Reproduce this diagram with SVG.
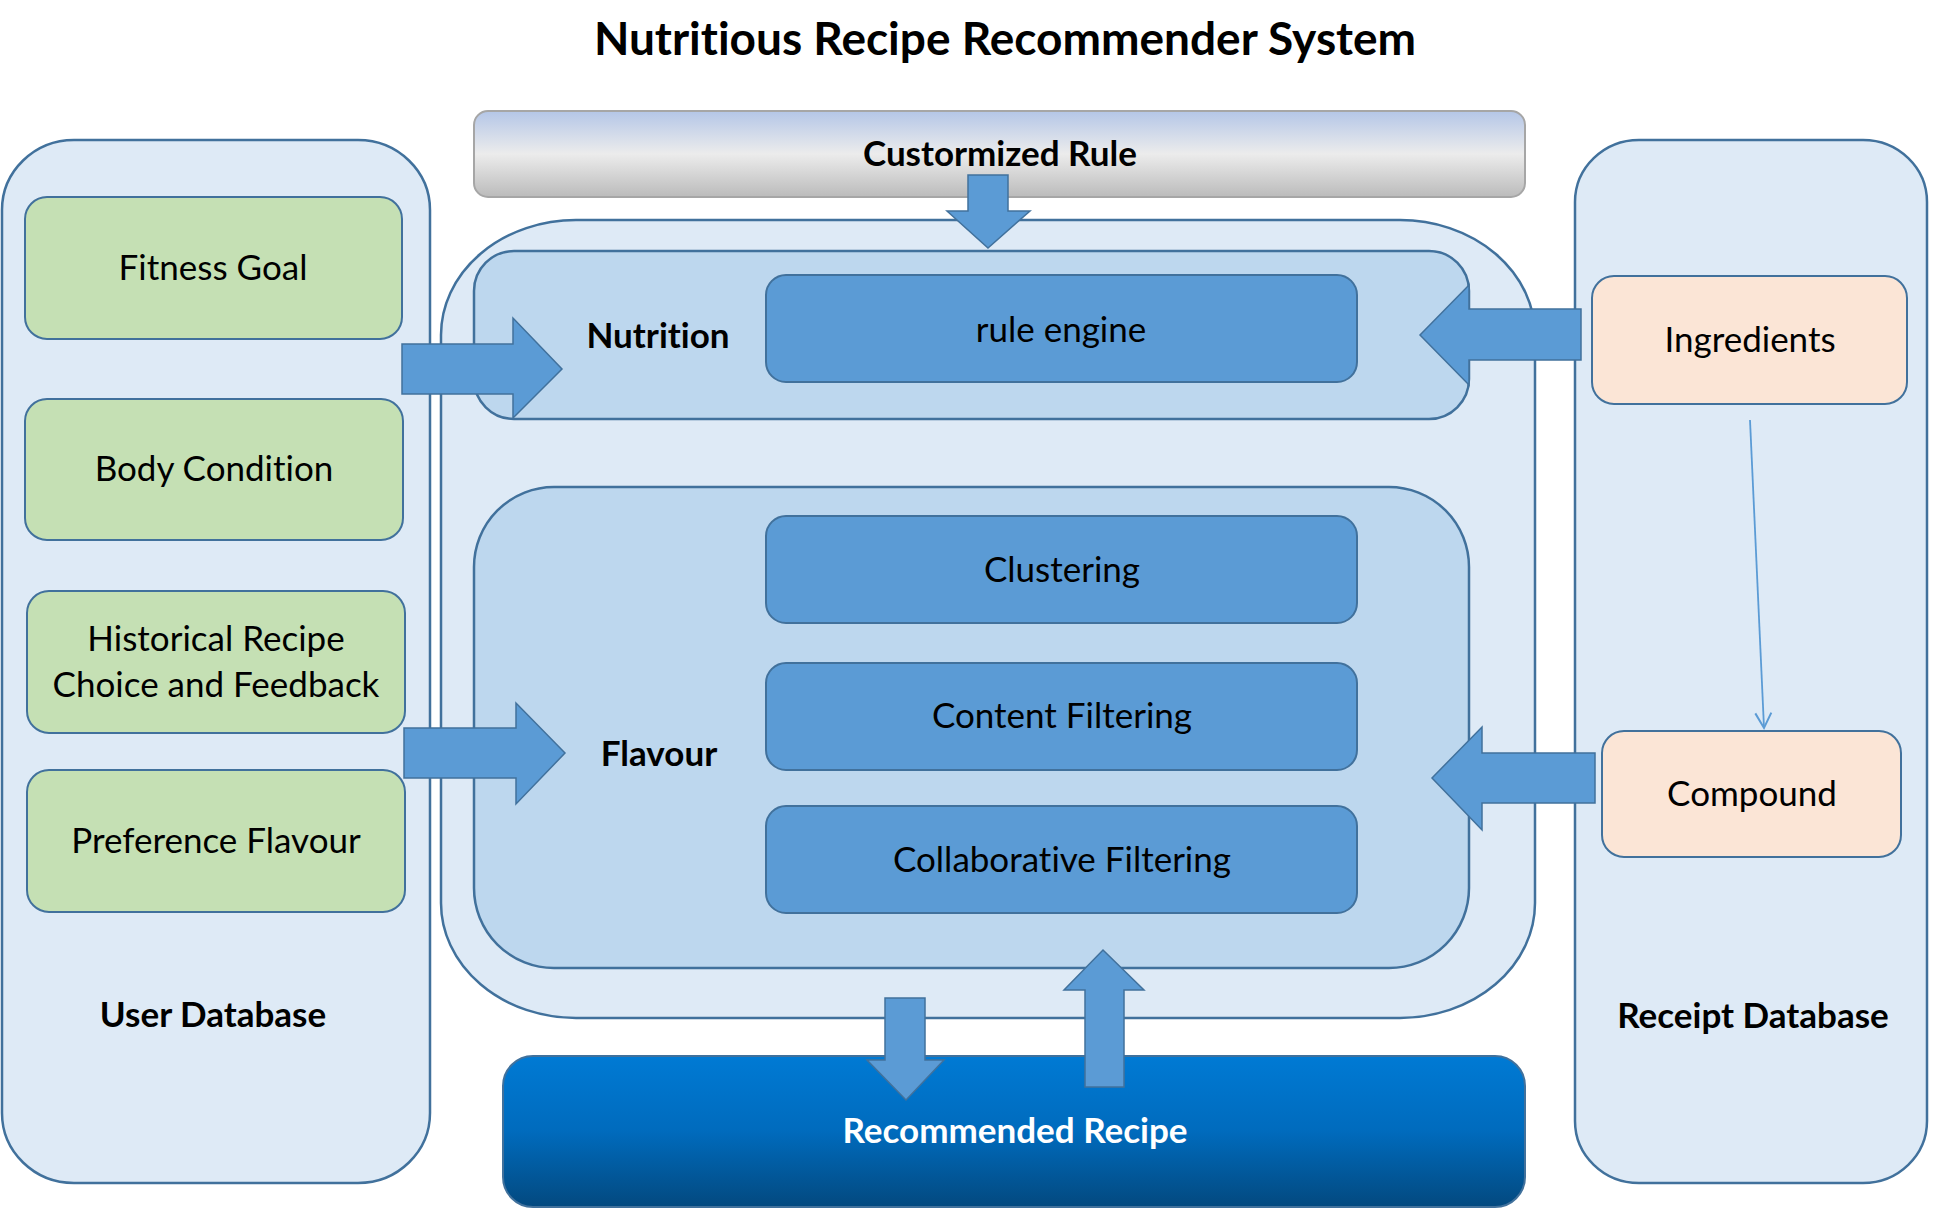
<svg xmlns="http://www.w3.org/2000/svg" width="1957" height="1209" viewBox="0 0 1957 1209">
  <style>
    text { font-variant-ligatures: none; }
    .panel { fill: #DEEAF6; stroke: #41719C; stroke-width: 2.5; }
    .group { fill: #BDD7EE; stroke: #41719C; stroke-width: 2.5; }
    .algo { fill: #5B9BD5; stroke: #41719C; stroke-width: 2; }
    .green { fill: #C5E0B4; stroke: #41719C; stroke-width: 2; }
    .peach { fill: #FBE5D6; stroke: #41719C; stroke-width: 2; }
    .arrow { fill: #5B9BD5; stroke: #41719C; stroke-width: 1.5; }
    .t { font-family: Lato, "Liberation Sans", sans-serif; font-size: 35px; fill: #000; text-anchor: middle; }
    .b { font-family: Lato, "Liberation Sans", sans-serif; font-size: 35px; font-weight: bold; fill: #000; text-anchor: middle; }
  </style>
  <defs>
    <linearGradient id="gRule" x1="0" y1="0" x2="0" y2="1">
      <stop offset="0" stop-color="#B4C6E7"/>
      <stop offset="0.5" stop-color="#ECECEC"/>
      <stop offset="1" stop-color="#BBBBBB"/>
    </linearGradient>
    <linearGradient id="gRec" x1="0" y1="0" x2="0" y2="1">
      <stop offset="0" stop-color="#007AD4"/>
      <stop offset="0.5" stop-color="#006BBD"/>
      <stop offset="1" stop-color="#03497F"/>
    </linearGradient>
    <marker id="open" viewBox="0 0 20 20" refX="17" refY="10" markerWidth="20" markerHeight="20" markerUnits="userSpaceOnUse" orient="auto">
      <path d="M2,2 L17,10 L2,18" fill="none" stroke="#5B9BD5" stroke-width="2"/>
    </marker>
  </defs>

  <text id="title" x="1005" y="55" font-family="Lato, 'Liberation Sans', sans-serif" font-size="46" font-weight="bold" text-anchor="middle" fill="#000">Nutritious Recipe Recommender System</text>

  <g id="user-database">
    <rect class="panel" x="2" y="140" width="428" height="1043" rx="72" ry="70"/>
    <text class="b" x="213" y="1027">User Database</text>
  </g>
  <g id="fitness-goal">
    <rect class="green" x="25" y="197" width="377" height="142" rx="22"/>
    <text class="t" x="213" y="280">Fitness Goal</text>
  </g>
  <g id="body-condition">
    <rect class="green" x="25" y="399" width="378" height="141" rx="22"/>
    <text class="t" x="214" y="481">Body Condition</text>
  </g>
  <g id="historical">
    <rect class="green" x="27" y="591" width="378" height="142" rx="22"/>
    <text class="t" x="216" y="651">Historical Recipe</text>
    <text class="t" x="216" y="697">Choice and Feedback</text>
  </g>
  <g id="preference-flavour">
    <rect class="green" x="27" y="770" width="378" height="142" rx="22"/>
    <text class="t" x="216" y="853">Preference Flavour</text>
  </g>

  <g id="receipt-database">
    <rect class="panel" x="1575" y="140" width="352" height="1043" rx="64" ry="62"/>
    <text class="b" x="1753" y="1028">Receipt Database</text>
  </g>
  <g id="ingredients">
    <rect class="peach" x="1592" y="276" width="315" height="128" rx="22"/>
    <text class="t" x="1750" y="352">Ingredients</text>
  </g>
  <g id="compound">
    <rect class="peach" x="1602" y="731" width="299" height="126" rx="22"/>
    <text class="t" x="1752" y="806">Compound</text>
  </g>

  <g id="customized-rule">
    <rect x="474" y="111" width="1051" height="86" rx="14" fill="url(#gRule)" stroke="#A6A6A6" stroke-width="2"/>
    <text class="b" x="1000" y="166">Custormized Rule</text>
  </g>

  <g id="engine">
    <rect class="panel" x="441" y="220" width="1094" height="798" rx="135" ry="115"/>
  </g>

  <g id="nutrition">
    <rect class="group" x="474" y="251" width="995" height="168" rx="40"/>
    <text class="b" x="658" y="348">Nutrition</text>
  </g>
  <g id="rule-engine">
    <rect class="algo" x="766" y="275" width="591" height="107" rx="20"/>
    <text class="t" x="1061" y="342">rule engine</text>
  </g>

  <g id="flavour">
    <rect class="group" x="474" y="487" width="995" height="481" rx="80"/>
    <text class="b" x="659" y="766">Flavour</text>
  </g>
  <g id="clustering">
    <rect class="algo" x="766" y="516" width="591" height="107" rx="20"/>
    <text class="t" x="1062" y="582">Clustering</text>
  </g>
  <g id="content-filtering">
    <rect class="algo" x="766" y="663" width="591" height="107" rx="20"/>
    <text class="t" x="1062" y="728">Content Filtering</text>
  </g>
  <g id="collaborative-filtering">
    <rect class="algo" x="766" y="806" width="591" height="107" rx="20"/>
    <text class="t" x="1062" y="872">Collaborative Filtering</text>
  </g>

  <g id="recommended-recipe">
    <rect x="503" y="1056" width="1022" height="151" rx="30" fill="url(#gRec)" stroke="#41719C" stroke-width="2"/>
    <text x="1015" y="1143" font-family="Lato, 'Liberation Sans', sans-serif" font-size="35" font-weight="bold" fill="#FFFFFF" text-anchor="middle">Recommended Recipe</text>
  </g>

  <g id="connectors">
    <polygon class="arrow" points="968,175 1008,175 1008,211 1030,211 988,248 947,211 968,211"/>
    <polygon class="arrow" points="402,344 513,344 513,318 562,369 513,418 513,394 402,394"/>
    <polygon class="arrow" points="404,728 516,728 516,703 565,753 516,804 516,778 404,778"/>
    <polygon class="arrow" points="1581,309 1469,309 1469,285 1420,335 1469,385 1469,360 1581,360"/>
    <polygon class="arrow" points="1595,753 1482,753 1482,727 1432,778 1482,830 1482,803 1595,803"/>
    <polygon class="arrow" points="885,998 925,998 925,1060 944,1060 906,1100 867,1060 885,1060"/>
    <polygon class="arrow" points="1085,1087 1124,1087 1124,990 1144,990 1103,950 1064,990 1085,990"/>
    <line x1="1750" y1="420" x2="1764" y2="728" stroke="#5B9BD5" stroke-width="1.8" marker-end="url(#open)"/>
  </g>
</svg>
